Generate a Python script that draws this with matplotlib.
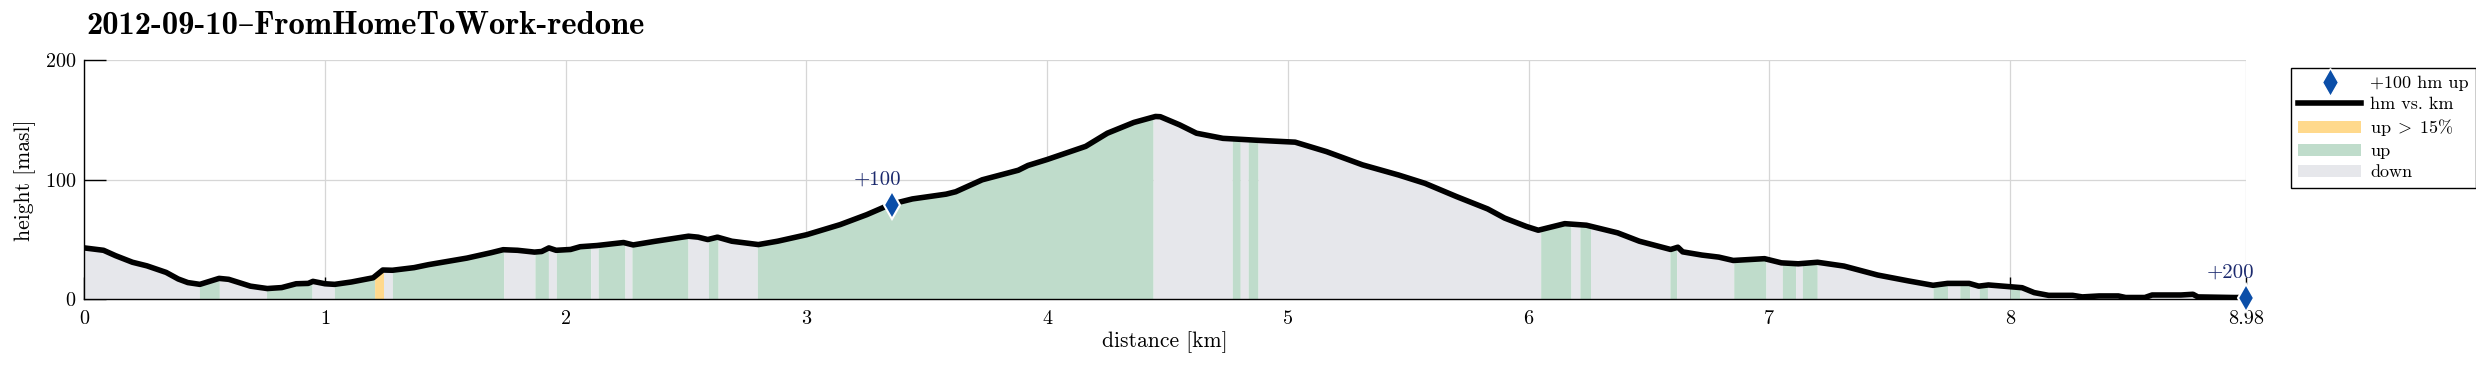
import numpy as np
import matplotlib
matplotlib.use("Agg")
import matplotlib.pyplot as plt
from matplotlib.lines import Line2D
from matplotlib.patches import Patch

plt.rcParams['font.family'] = ['cmr10', 'DejaVu Serif']
plt.rcParams['mathtext.fontset'] = 'cm'
plt.rcParams['axes.formatter.use_mathtext'] = True

# elevation profile
dist_km = [0.00, 0.08, 0.13, 0.20, 0.26, 0.34, 0.39, 0.43, 0.48, 0.56,
           0.60, 0.69, 0.76, 0.82, 0.88, 0.93, 0.95, 1.00, 1.04, 1.11,
           1.20, 1.24, 1.28, 1.37, 1.43, 1.59, 1.69, 1.74, 1.80, 1.87,
           1.90, 1.93, 1.96, 2.02, 2.06, 2.13, 2.24, 2.28, 2.37, 2.51,
           2.55, 2.59, 2.63, 2.69, 2.80, 2.88, 3.00, 3.14, 3.25, 3.35,
           3.44, 3.58, 3.62, 3.73, 3.88, 3.92, 4.00, 4.16, 4.25, 4.36,
           4.45, 4.47, 4.55, 4.62, 4.73, 4.88, 5.03, 5.16, 5.31, 5.46,
           5.57, 5.70, 5.83, 5.90, 5.99, 6.04, 6.15, 6.24, 6.37, 6.46,
           6.59, 6.62, 6.64, 6.72, 6.79, 6.85, 6.98, 7.05, 7.12, 7.20,
           7.31, 7.45, 7.58, 7.68, 7.74, 7.83, 7.87, 7.91, 8.05, 8.10,
           8.16, 8.26, 8.30, 8.37, 8.45, 8.48, 8.56, 8.59, 8.71, 8.76,
           8.78, 8.93, 8.98]
height_m = [43.0, 41.0, 36.5, 31.0, 28.0, 22.5, 17.0, 14.0, 12.5, 17.5,
            16.7, 11.0, 9.0, 9.8, 13.0, 13.3, 15.0, 13.0, 12.5, 14.5,
            18.0, 24.5, 24.3, 26.5, 29.0, 34.5, 39.0, 41.5, 41.0, 39.5,
            40.0, 43.0, 41.0, 41.7, 44.0, 45.0, 47.5, 45.5, 48.5, 52.8,
            52.0, 50.0, 52.0, 48.6, 45.8, 48.6, 54.0, 62.5, 70.8, 79.5,
            84.0, 88.0, 90.0, 100.0, 108.0, 112.0, 117.0, 128.0, 139.0, 148.0,
            153.0, 152.8, 146.0, 139.0, 134.7, 133.0, 131.5, 123.6, 112.5, 104.0,
            97.0, 86.0, 75.6, 68.0, 61.0, 57.8, 63.3, 62.0, 55.6, 48.6,
            41.7, 43.6, 39.7, 37.0, 35.3, 32.5, 34.0, 30.5, 29.7, 31.0,
            27.8, 20.3, 15.3, 11.7, 13.3, 13.3, 11.0, 12.0, 9.7, 5.6,
            3.3, 3.3, 2.0, 2.8, 2.8, 1.5, 1.5, 3.6, 3.6, 4.2,
            2.0, 1.5, 1.5]

# slope classes along the track
seg_edges = [0.000, 0.478, 0.561, 0.757, 0.946, 1.039, 1.206, 1.243, 1.280, 1.743,
             1.872, 1.928, 1.961, 2.104, 2.135, 2.246, 2.275, 2.508, 2.593, 2.633,
             2.796, 4.440, 4.769, 4.802, 4.835, 4.876, 6.050, 6.176, 6.213, 6.257,
             6.587, 6.615, 6.852, 6.986, 7.054, 7.109, 7.137, 7.199, 7.680, 7.743,
             7.791, 7.833, 7.872, 7.906, 8.000, 8.041, 8.980]
seg_kinds = ['down', 'up', 'down', 'up', 'down', 'up', 'steep', 'down', 'up', 'down',
             'up', 'down', 'up', 'down', 'up', 'down', 'up', 'down', 'up', 'down',
             'up', 'down', 'up', 'down', 'up', 'down', 'up', 'down', 'up', 'down',
             'up', 'down', 'up', 'down', 'up', 'down', 'up', 'down', 'up', 'down',
             'up', 'down', 'up', 'down', 'up', 'down']

# +100 hm markers
mark_km = [3.357, 8.98]
mark_h = [79.0, 1.5]
mark_txt = ['+100', '+200']

xtick_pos = [0, 1, 2, 3, 4, 5, 6, 7, 8, 8.98]
xtick_lab = ['0', '1', '2', '3', '4', '5', '6', '7', '8', '8.98']

colors = {'steep': '#ffd98c', 'up': '#bfdccb', 'down': '#e6e7eb'}

d = np.array(dist_km)
h = np.array(height_m)

fig = plt.figure(figsize=(24.76, 3.73), dpi=100)
ax = fig.add_axes([0.03405, 0.1976, 0.87305, 0.6407])

for i, kind in enumerate(seg_kinds):
    a, b = seg_edges[i], seg_edges[i + 1]
    inside = (d > a) & (d < b)
    xs = np.concatenate([[a], d[inside], [b]])
    ys = np.concatenate([[np.interp(a, d, h)], h[inside], [np.interp(b, d, h)]])
    ax.fill_between(xs, 0, ys, color=colors[kind], linewidth=0, zorder=1)

ax.plot(d, h, color='black', linewidth=4.0, zorder=3, solid_capstyle='round')
ax.plot(mark_km, mark_h, linestyle='none', marker='d', markersize=14,
        markerfacecolor='#0b4ea8', markeredgecolor='white', markeredgewidth=1.5,
        zorder=4, clip_on=False)
for xk, yk, t in zip(mark_km, mark_h, mark_txt):
    ax.annotate(t, (xk, yk), xytext=(-11, 18), textcoords='offset points',
                ha='center', va='center', fontsize=15, color='#1c2a6e', zorder=5)

ax.set_xlim(0, 8.98)
ax.set_ylim(0, 200)
ax.set_xticks(xtick_pos)
ax.set_xticklabels(xtick_lab)
ax.set_yticks([0, 100, 200])
ax.spines['top'].set_visible(False)
ax.spines['right'].set_visible(False)
ax.spines['left'].set_linewidth(1.0)
ax.spines['bottom'].set_linewidth(1.0)
ax.set_axisbelow(True)
ax.grid(True, color='#d6d6d6', linewidth=0.9)
ax.tick_params(direction='in', length=16, width=1.0, labelsize=14.5)
ax.tick_params(axis='x', pad=8)
ax.tick_params(axis='y', pad=6)
ax.set_xlabel('distance [km]', fontsize=15.5, labelpad=2)
ax.set_ylabel('height [masl]', fontsize=15.5, labelpad=6)

fig.text(86 / 2476, 1 - 25 / 373, '2012-09-10\u2013FromHomeToWork-redone',
         fontfamily=['cmb10', 'DejaVu Serif'], fontsize=23.5, va='center', ha='left')

handles = [
    Line2D([], [], linestyle='none', marker='d', markersize=14,
           markerfacecolor='#0b4ea8', markeredgecolor='white'),
    Line2D([], [], color='black', linewidth=4.0),
    Patch(facecolor=colors['steep']),
    Patch(facecolor=colors['up']),
    Patch(facecolor=colors['down']),
]
labels = ['+100 hm up', 'hm vs. km', r'up$\;>\;$15%', 'up', 'down']
leg = fig.legend(handles, labels, loc='upper left',
                 bbox_to_anchor=(2282 / 2476, 1 - 59 / 373),
                 fontsize=13, frameon=True, fancybox=False, framealpha=1,
                 edgecolor='black', handlelength=3.5, handletextpad=0.5,
                 labelspacing=0.3, borderpad=0.4)
leg.get_frame().set_linewidth(1.0)

fig.savefig('out.png', dpi=100)
